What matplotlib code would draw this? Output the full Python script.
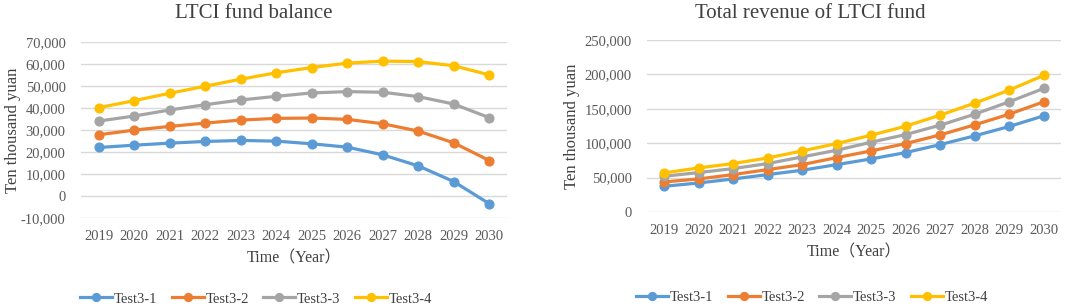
import matplotlib.pyplot as plt
from matplotlib.ticker import FuncFormatter

years = ["2019", "2020", "2021", "2022", "2023", "2024",
         "2025", "2026", "2027", "2028", "2029", "2030"]
series_names = ["Test3-1", "Test3-2", "Test3-3", "Test3-4"]

# LTCI fund balance (ten thousand yuan)
balance_1 = [22050, 23100, 24030, 24790, 25250, 24940, 23730, 22200, 18700, 13690, 6540, -3500]
balance_2 = [27830, 29960, 31630, 33150, 34520, 35280, 35440, 34830, 32850, 29500, 24180, 16120]
balance_3 = [34070, 36350, 39100, 41500, 43650, 45300, 46850, 47450, 47150, 45170, 41800, 35600]
balance_4 = [40150, 43350, 46700, 49900, 53100, 56000, 58400, 60400, 61300, 61100, 59200, 55050]

# Total revenue of LTCI fund (ten thousand yuan)
revenue_1 = [37400, 42200, 48050, 54400, 60700, 68900, 77200, 86400, 98000, 110700, 124300, 139800]
revenue_2 = [43700, 48050, 54400, 61650, 68900, 79100, 88800, 99500, 112100, 126700, 142200, 160200]
revenue_3 = [51950, 57300, 63100, 70400, 80100, 89800, 101450, 112600, 126200, 142200, 160200, 179600]
revenue_4 = [56800, 64100, 70400, 78600, 88800, 99500, 111650, 124750, 140800, 158250, 177200, 198550]

colors = ["#5B9BD5", "#ED7D31", "#A5A5A5", "#FFC000"]
tick_color = "#595959"
text_color = "#404040"

plt.rcParams["font.family"] = ["Liberation Serif", "Noto Sans CJK SC"]

W, H = 1084, 306
fig = plt.figure(figsize=(W / 100, H / 100), dpi=100)
ax1 = fig.add_axes([81 / W, 1 - 218 / H, 426 / W, 176 / H])
ax2 = fig.add_axes([647 / W, 1 - 212 / H, 414 / W, 172 / H])

# (axes, series, title, y range, step, title x, ylabel x, legend x, legend y)
panels = [
    (ax1, [balance_1, balance_2, balance_3, balance_4], "LTCI fund balance",
     (-10000, 70000), 10000, 254, 21, 256, 299),
    (ax2, [revenue_1, revenue_2, revenue_3, revenue_4], "Total revenue of LTCI fund",
     (0, 250000), 50000, 810, 580, 812, 297),
]

x = list(range(len(years)))
fmt = FuncFormatter(lambda v, p: f"{int(v):,}")

for ax, data, title, (lo, hi), step, tx, yx, lx, ly in panels:
    for vals, c, name in zip(data, colors, series_names):
        ax.plot(x, vals, color=c, lw=2.3, marker="o", ms=6.3, label=name)
    ax.set_xlim(-0.5, len(years) - 0.5)
    ax.set_ylim(lo, hi)
    ax.set_yticks(range(lo, hi + 1, step))
    ax.yaxis.set_major_formatter(fmt)
    ax.set_xticks(x)
    ax.set_xticklabels(years)
    ax.grid(axis="y", color="#D9D9D9", lw=1)
    ax.set_axisbelow(True)
    for s in ax.spines.values():
        s.set_visible(False)
    ax.tick_params(axis="y", length=0, labelsize=10.5, colors=tick_color, pad=11)
    ax.tick_params(axis="x", length=0, labelsize=10.5, colors=tick_color, pad=9)
    ax.set_xlabel("Time（Year）", fontsize=11.5, color=text_color, labelpad=5)
    ax.set_ylabel("Ten thousand yuan", fontsize=12, color=text_color)
    bb = ax.get_position()
    ax.yaxis.set_label_coords((yx / W - bb.x0) / bb.width, 0.5)
    fig.text(tx / W, 1 - 13 / H, title, ha="center", va="center",
             fontsize=15, color=text_color)
    handles, labels = ax.get_legend_handles_labels()
    fig.legend(handles, labels, loc="center", bbox_to_anchor=(lx / W, 1 - ly / H),
               ncol=4, frameon=False, fontsize=10.5, handlelength=2.2,
               columnspacing=1.0, handletextpad=0.1, markerscale=0.9,
               labelcolor=text_color)

fig.savefig("out.png", dpi=100, facecolor="white")
